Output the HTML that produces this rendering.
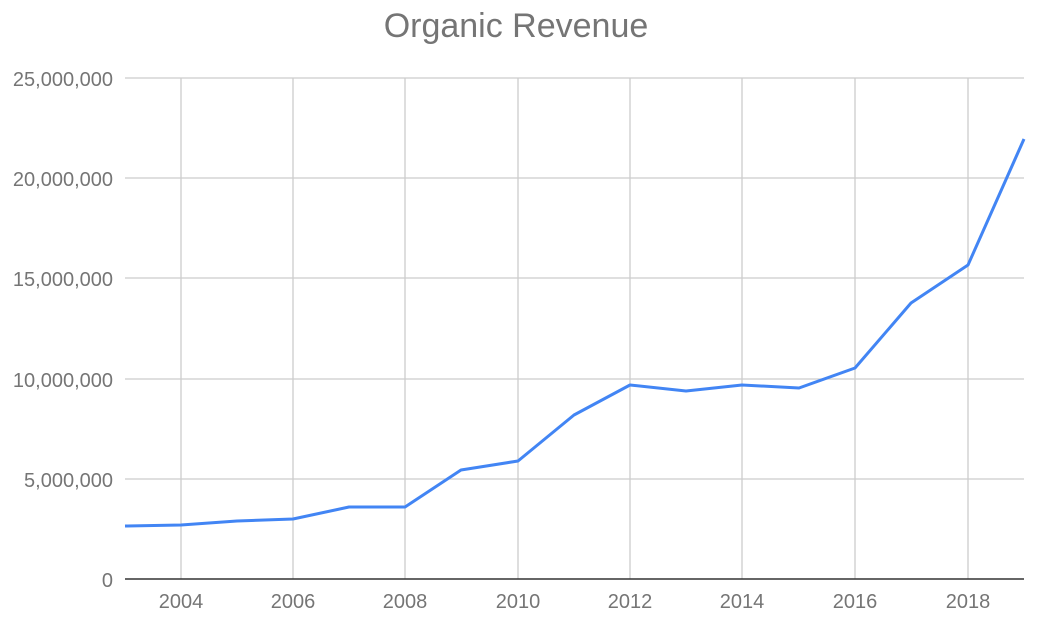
<!DOCTYPE html>
<html><head><meta charset="utf-8"><style>
body{margin:0;background:#fff;}
svg{display:block;font-family:"Liberation Sans",Arial,sans-serif;}
</style></head><body>
<svg width="1042" height="644" viewBox="0 0 1042 644">
<rect width="1042" height="644" fill="#fff"/>
<text x="516" y="37" text-anchor="middle" font-size="34" fill="#757575">Organic Revenue</text>
<g stroke="#cccccc" stroke-width="1.3">
<line x1="125" y1="78" x2="1024" y2="78"/>
<line x1="125" y1="178" x2="1024" y2="178"/>
<line x1="125" y1="278" x2="1024" y2="278"/>
<line x1="125" y1="379" x2="1024" y2="379"/>
<line x1="125" y1="479" x2="1024" y2="479"/>
<line x1="181" y1="78" x2="181" y2="579"/>
<line x1="293" y1="78" x2="293" y2="579"/>
<line x1="405" y1="78" x2="405" y2="579"/>
<line x1="518" y1="78" x2="518" y2="579"/>
<line x1="630" y1="78" x2="630" y2="579"/>
<line x1="742" y1="78" x2="742" y2="579"/>
<line x1="855" y1="78" x2="855" y2="579"/>
<line x1="968" y1="78" x2="968" y2="579"/>
</g>
<line x1="125" y1="579" x2="1024" y2="579" stroke="#333" stroke-width="1.5"/>
<g font-size="20" fill="#757575" text-anchor="end">
<text x="113" y="86">25,000,000</text>
<text x="113" y="186">20,000,000</text>
<text x="113" y="286">15,000,000</text>
<text x="113" y="387">10,000,000</text>
<text x="113" y="487">5,000,000</text>
<text x="113" y="587">0</text>
</g>
<g font-size="20" fill="#757575" text-anchor="middle">
<text x="181" y="608">2004</text>
<text x="293" y="608">2006</text>
<text x="405" y="608">2008</text>
<text x="518" y="608">2010</text>
<text x="630" y="608">2012</text>
<text x="742" y="608">2014</text>
<text x="855" y="608">2016</text>
<text x="968" y="608">2018</text>
</g>
<polyline fill="none" stroke="#4285f4" stroke-width="3" stroke-linejoin="round"
points="125,526 181,525 237,521 293,519 349,507 405,507 461,470 518,461 574,415 630,385 686,391 742,385 799,388 855,368 911,303 968,265 1024,139"/>
</svg>
</body></html>
